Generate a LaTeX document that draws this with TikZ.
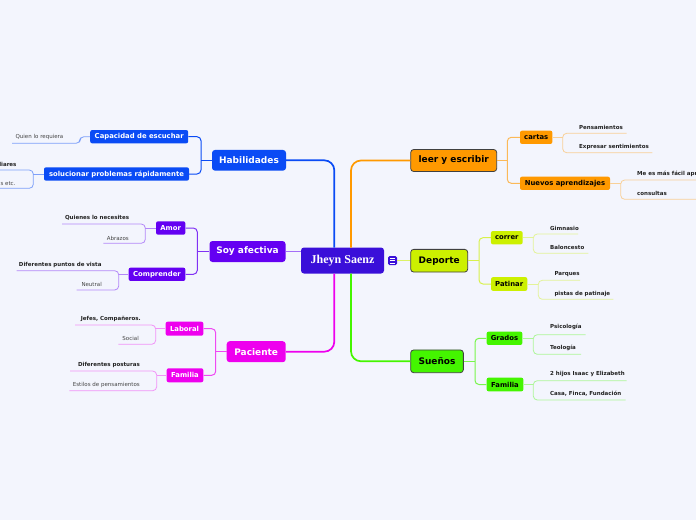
\documentclass[tikz,border=0pt]{standalone}
\usepackage{fontspec}
\setmainfont{Liberation Serif}
\setsansfont{DejaVu Sans}
\definecolor{bg}{HTML}{F3F5FD}
\definecolor{ccenter}{HTML}{3A0FD9}
\definecolor{cblue}{HTML}{0A4BF5}
\definecolor{cpurple}{HTML}{6400F2}
\definecolor{cmag}{HTML}{EE00EE}
\definecolor{corange}{HTML}{FF9900}
\definecolor{clime}{HTML}{CCF000}
\definecolor{cgreen}{HTML}{44F500}
\definecolor{tdark}{HTML}{222222}
\definecolor{tgray}{HTML}{444444}
\tikzset{
  mainnode/.style={rounded corners=3pt, text=white, inner sep=0pt,
    font=\sffamily\bfseries\fontsize{9}{10}\selectfont},
  mainnodeR/.style={mainnode, text=black, draw=black!75, line width=0.8pt},
  subnode/.style={rounded corners=2pt, text=white, inner sep=0pt,
    font=\sffamily\bfseries\fontsize{6.85}{7}\selectfont},
  subnodeR/.style={subnode, text=black},
  leafb/.style={inner sep=0pt, text=tdark, font=\sffamily\bfseries\fontsize{5.5}{6}\selectfont},
  leafr/.style={inner sep=0pt, text=tgray, font=\sffamily\fontsize{5.5}{6}\selectfont},
  mainline/.style={line width=1.7pt, rounded corners=10pt},
  subline/.style={line width=1pt, rounded corners=4pt},
  leafline/.style={line width=0.8pt, rounded corners=4pt},
}
\begin{document}
\begin{tikzpicture}[x=1pt,y=-1pt]
\fill[bg] (0,0) rectangle (696,520);
\useasboundingbox (0,0) rectangle (696,520);

% ---------- centre ----------
\node[fill=ccenter, rounded corners=3pt, text=white, inner sep=0pt,
      minimum width=83pt, minimum height=26pt,
      font=\rmfamily\bfseries\fontsize{12}{13}\selectfont] (center) at (342.5,260.5) {Jheyn Saenz};
\node[fill=ccenter, rounded corners=1.5pt, minimum width=9pt, minimum height=9pt, inner sep=0pt] (icon) at (392.5,260.7) {};
\draw[white, line width=0.6pt] (390.2,258.6) -- (394.8,258.6) (390.2,260.7) -- (394.8,260.7) (390.2,262.8) -- (394.8,262.8);
\coordinate (cTL) at (334.3,247.5);
\coordinate (cTR) at (351,247.5);
\coordinate (cBL) at (334.3,273.5);
\coordinate (cBR) at (351,273.5);

% ---------- main nodes ----------
\node[mainnode, fill=cblue, minimum width=74pt, minimum height=20.7pt] (hab) at (249,160.3) {Habilidades};
\node[mainnode, fill=cpurple, minimum width=76pt, minimum height=21pt] (soy) at (247.5,251.5) {Soy afectiva};
\node[mainnode, fill=cmag, minimum width=59pt, minimum height=21pt] (pac) at (256.2,351.7) {Paciente};
\node[mainnodeR, fill=corange, minimum width=86pt, minimum height=22pt] (leer) at (453.7,160.5) {leer y escribir};
\node[mainnodeR, fill=clime, minimum width=57pt, minimum height=22.7pt] (dep) at (439.2,260.7) {Deporte};
\node[mainnodeR, fill=cgreen, minimum width=52.7pt, minimum height=22.7pt] (sue) at (437,361.3) {Sueños};

% ---------- sub nodes ----------
\node[subnode, fill=cblue, minimum width=98pt, minimum height=13.3pt] (cap) at (139.2,136.7) {Capacidad de escuchar};
\node[subnode, fill=cblue, minimum width=145pt, minimum height=13.4pt] (sol) at (116.5,174) {solucionar problemas rápidamente};
\node[subnode, fill=cpurple, minimum width=29.3pt, minimum height=13.4pt] (amor) at (170.7,228) {Amor};
\node[subnode, fill=cpurple, minimum width=56.7pt, minimum height=13.3pt] (comp) at (157,274.3) {Comprender};
\node[subnode, fill=cmag, minimum width=37.7pt, minimum height=14pt] (lab) at (184.5,328.7) {Laboral};
\node[subnode, fill=cmag, minimum width=36.7pt, minimum height=14pt] (famL) at (185,375.3) {Familia};
\node[subnodeR, fill=corange, minimum width=32.3pt, minimum height=13.3pt] (cart) at (536.2,137.3) {cartas};
\node[subnodeR, fill=corange, minimum width=90pt, minimum height=13.3pt] (nue) at (565,183.3) {Nuevos aprendizajes};
\node[subnodeR, fill=clime, minimum width=31.7pt, minimum height=13.3pt] (corr) at (506.8,237.7) {correr};
\node[subnodeR, fill=clime, minimum width=36.3pt, minimum height=13.7pt] (pat) at (509.2,284) {Patinar};
\node[subnodeR, fill=cgreen, minimum width=35.7pt, minimum height=13.3pt] (grad) at (504.5,338.3) {Grados};
\node[subnodeR, fill=cgreen, minimum width=36.7pt, minimum height=13.7pt] (famR) at (505,384.5) {Familia};

% ---------- leaf texts ----------
\node[leafr, anchor=east] (l1) at (63.5,136.7) {Quien lo requiera};
\node[leafb, anchor=east] (l2) at (16.7,164.3) {liares};
\node[leafr, anchor=east] (l3) at (15.7,184) {s etc.};
\node[leafb, anchor=east] (l4) at (129.3,217.7) {Quienes lo necesites};
\node[leafr, anchor=east] (l5) at (129,238) {Abrazos};
\node[leafb, anchor=east] (l6) at (101.7,265) {Diferentes puntos de vista};
\node[leafr, anchor=east] (l7) at (102,284) {Neutral};
\node[leafb, anchor=east] (l8) at (141,319) {Jefes, Compañeros.};
\node[leafr, anchor=east] (l9) at (139,338) {Social};
\node[leafb, anchor=east] (l10) at (140,365.3) {Diferentes posturas};
\node[leafr, anchor=east] (l11) at (140,385.3) {Estilos de pensamientos};

\node[leafb, anchor=west] (r1) at (579,127.3) {Pensamientos};
\node[leafb, anchor=west] (r2) at (579,146.7) {Expresar sentimientos};
\node[leafb, anchor=west] (r3) at (637,174) {Me es más fácil apr};
\node[leafb, anchor=west] (r4) at (637,193.7) {consultas};
\node[leafb, anchor=west] (r5) at (550,228.3) {Gimnasio};
\node[leafb, anchor=west] (r6) at (550,247.3) {Baloncesto};
\node[leafb, anchor=west] (r7) at (554.3,274) {Parques};
\node[leafb, anchor=west] (r8) at (554.3,294) {pistas de patinaje};
\node[leafb, anchor=west] (r9) at (550,327.3) {Psicología};
\node[leafb, anchor=west] (r10) at (550,348) {Teología};
\node[leafb, anchor=west] (r11) at (550,374.3) {2 hijos Isaac y Elizabeth};
\node[leafb, anchor=west] (r12) at (550,393.7) {Casa, Finca, Fundación};

% ---------- leaf line ends ----------
\coordinate (e1) at (12,143.3);
\coordinate (e2) at (0,170);   \coordinate (e3) at (0,188.3);
\coordinate (e4) at (62,224);  \coordinate (e5) at (103.3,243.3);
\coordinate (e6) at (16.7,270.7); \coordinate (e7) at (76.7,290);
\coordinate (e8) at (75,325);  \coordinate (e9) at (118.3,344.3);
\coordinate (e10) at (70,371); \coordinate (e11) at (69.3,390.7);
\coordinate (f1) at (626.7,133.3); \coordinate (f2) at (652.3,152.7);
\coordinate (f3) at (696,180);     \coordinate (f4) at (696,199.3);
\coordinate (f5) at (578,234);     \coordinate (f6) at (588.3,253.3);
\coordinate (f7) at (580,280.3);   \coordinate (f8) at (613.3,299.3);
\coordinate (f9) at (585.7,334.7); \coordinate (f10) at (581,354.3);
\coordinate (f11) at (626.7,380.7);\coordinate (f12) at (625.7,400);

% ---------- main connectors ----------
\draw[mainline, cblue] (hab.east) -| (cTL);
\draw[mainline, cmag] (pac.east) -| (cBL);
\draw[mainline, corange] (leer.west) -| (cTR);
\draw[mainline, cgreen] (sue.west) -| (cBR);
\draw[line width=1.2pt, cpurple!55!bg] (soy.east) -- (soy.east -| center.west);
\draw[line width=1.2pt, clime!60!bg] (icon.east) -- (dep.west);

% ---------- sub connectors ----------
\draw[subline, cblue] (cap.east) -| (201,155) |- (sol.east);
\draw[subline, cblue] (hab.west) -- (201,160.3);
\draw[subline, cpurple!80!bg] (amor.east) -| (197.3,251) |- (comp.east);
\draw[subline, cpurple!80!bg] (soy.west) -- (197.3,251.5);
\draw[subline, cmag!70!bg] (lab.east) -| (215.7,351) |- (famL.east);
\draw[subline, cmag!70!bg] (pac.west) -- (215.7,351.7);
\draw[subline, corange!65!bg] (cart.west) -| (507.3,160) |- (nue.west);
\draw[subline, corange!65!bg] (leer.east) -- (507.3,160.5);
\draw[subline, clime!70!bg] (corr.west) -| (479,260) |- (pat.west);
\draw[subline, clime!70!bg] (dep.east) -- (479,260.7);
\draw[subline, cgreen!70!bg] (grad.west) -| (475,361) |- (famR.west);
\draw[subline, cgreen!70!bg] (sue.east) -- (475,361.3);

% ---------- leaf connectors ----------
\draw[leafline, cblue!50!bg] (cap.west) -- (80,136.7) -- (80,143.3) -- (e1);
\draw[leafline, cblue!50!bg] (e2) -- (33.3,170) -- (33.3,188.3) -- (e3);
\draw[leafline, cblue!50!bg] (sol.west) -- (33.3,174);
\draw[leafline, cpurple!45!bg] (e4) -- (145.3,224) -- (145.3,243.3) -- (e5);
\draw[leafline, cpurple!45!bg] (amor.west) -- (145.3,228);
\draw[leafline, cpurple!45!bg] (e6) -- (118.7,270.7) -- (118.7,290) -- (e7);
\draw[leafline, cpurple!45!bg] (comp.west) -- (118.7,274.3);
\draw[leafline, cmag!40!bg] (e8) -- (155.7,325) -- (155.7,344.3) -- (e9);
\draw[leafline, cmag!40!bg] (lab.west) -- (155.7,328.7);
\draw[leafline, cmag!40!bg] (e10) -- (156.7,371) -- (156.7,390.7) -- (e11);
\draw[leafline, cmag!40!bg] (famL.west) -- (156.7,375.3);

\draw[leafline, corange!40!bg] (f1) -- (562.7,133.3) -- (562.7,152.7) -- (f2);
\draw[leafline, corange!40!bg] (cart.east) -- (562.7,137.3);
\draw[leafline, corange!40!bg] (f3) -- (620.7,180) -- (620.7,199.3) -- (f4);
\draw[leafline, corange!40!bg] (nue.east) -- (620.7,183.3);
\draw[leafline, clime!40!bg] (f5) -- (533.3,234) -- (533.3,253.3) -- (f6);
\draw[leafline, clime!40!bg] (corr.east) -- (533.3,237.7);
\draw[leafline, clime!40!bg] (f7) -- (538.3,280.3) -- (538.3,299.3) -- (f8);
\draw[leafline, clime!40!bg] (pat.east) -- (538.3,284);
\draw[leafline, cgreen!40!bg] (f9) -- (533.3,334.7) -- (533.3,354.3) -- (f10);
\draw[leafline, cgreen!40!bg] (grad.east) -- (533.3,338.3);
\draw[leafline, cgreen!40!bg] (f11) -- (533.3,380.7) -- (533.3,400) -- (f12);
\draw[leafline, cgreen!40!bg] (famR.east) -- (533.3,384.5);
\end{tikzpicture}
\end{document}
